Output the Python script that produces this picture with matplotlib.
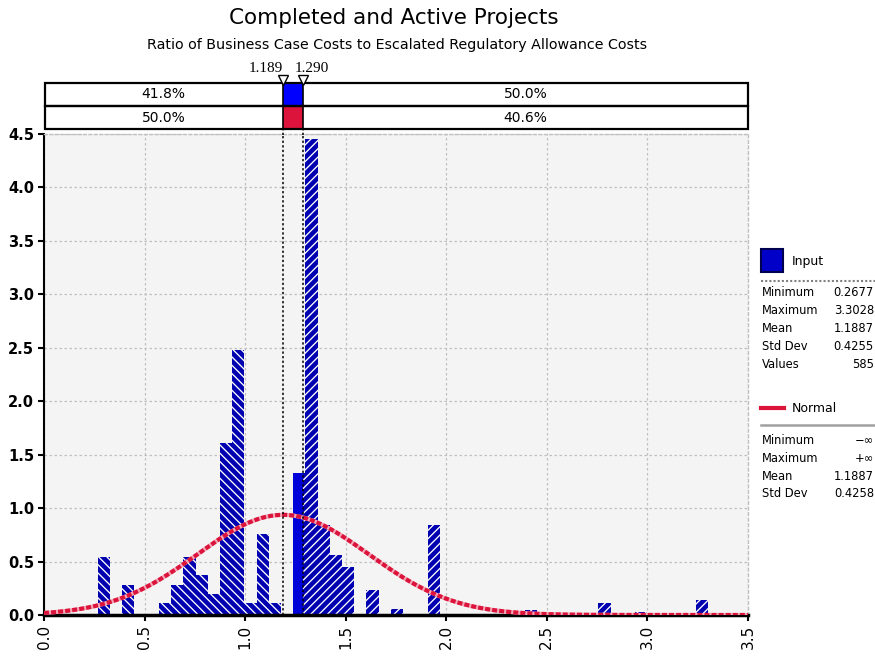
import numpy as np
import matplotlib.pyplot as plt
from matplotlib.patches import Rectangle
from matplotlib.lines import Line2D

plt.rcParams['font.family'] = ['DejaVu Sans']
plt.rcParams['hatch.linewidth'] = 0.95

title = 'Completed and Active Projects'
subtitle = 'Ratio of Business Case Costs to Escalated Regulatory Allowance Costs'

# input histogram (density), 50 equal bins between min and max
input_min, input_max = 0.2677, 3.3028
bin_heights = [0.54, 0.0, 0.28, 0.0, 0.0, 0.11, 0.28, 0.54, 0.37, 0.20,
               1.61, 2.48, 0.11, 0.76, 0.11, 0.0, 1.33, 4.45, 0.84, 0.56,
               0.45, 0.0, 0.23, 0.0, 0.06, 0.0, 0.0, 0.84, 0.0, 0.0,
               0.0, 0.0, 0.0, 0.0, 0.0, 0.05, 0.0, 0.0, 0.0, 0.0,
               0.0, 0.11, 0.0, 0.0, 0.03, 0.0, 0.0, 0.0, 0.0, 0.14]

# fitted normal
normal_mean, normal_sd = 1.1887, 0.4258

# delimiters and the percentages in the bars above the chart
delims = [1.189, 1.290]
delim_labels = ['1.189', '1.290']
pct_input = ['41.8%', '50.0%']
pct_normal = ['50.0%', '40.6%']

input_stats = [('Minimum', '0.2677'), ('Maximum', '3.3028'), ('Mean', '1.1887'),
               ('Std Dev', '0.4255'), ('Values', '585')]
normal_stats = [('Minimum', '\u2212\u221e'), ('Maximum', '+\u221e'), ('Mean', '1.1887'),
                ('Std Dev', '0.4258')]

W, H = 875, 659
BLUE = '#0000b0'
BLUE_SOLID = '#0000d8'
RED = '#dc143c'


def fx(px):
    return px / W


def fy(py):
    return 1 - py / H


fig = plt.figure(figsize=(W / 100, H / 100), dpi=100)

# ---- main histogram axes
ax = fig.add_axes([fx(44), fy(615), (748 - 44) / W, (615 - 134) / H])
ax.set_facecolor('#f4f4f4')
ax.set_xlim(0, 3.5)
ax.set_ylim(0, 4.5)

edges = np.linspace(input_min, input_max, len(bin_heights) + 1)
d1, d2 = delims
for i, h in enumerate(bin_heights):
    if h <= 0:
        continue
    lo, hi = edges[i], edges[i + 1]
    if lo < d1:
        r = min(hi, d1)
        ax.bar(lo, h, r - lo, align='edge', color=BLUE, edgecolor='white',
               hatch='\\\\\\\\', linewidth=0, zorder=2)
    if hi > d1 and lo < d2:
        l, r = max(lo, d1), min(hi, d2)
        ax.bar(l, h, r - l, align='edge', color=BLUE_SOLID, linewidth=0, zorder=2)
    if hi > d2:
        l = max(lo, d2)
        ax.bar(l, h, hi - l, align='edge', color=BLUE, edgecolor='white',
               hatch='////', linewidth=0, zorder=2)

xs = np.linspace(0, 3.5, 500)
pdf = np.exp(-0.5 * ((xs - normal_mean) / normal_sd) ** 2) / (normal_sd * np.sqrt(2 * np.pi))
ax.plot(xs, pdf, color='#f3a6b6', lw=3.0, zorder=3)
ax.plot(xs, pdf, color=RED, lw=3.0, dashes=(1.2, 0.5), zorder=4)

for d in delims:
    ax.axvline(d, color='black', lw=1.1, linestyle=(0, (1.5, 1.5)), zorder=5)

ax.set_xticks(np.arange(0, 3.51, 0.5))
ax.set_xticklabels([f'{v:.1f}' for v in np.arange(0, 3.51, 0.5)], rotation=90, fontsize=11)
ax.set_yticks(np.arange(0, 4.51, 0.5))
ax.set_yticklabels([f'{v:.1f}' for v in np.arange(0, 4.51, 0.5)], fontsize=10.5, fontweight='bold')
ax.tick_params(direction='out', length=4, width=1.5, pad=3)
ax.grid(color='#c0c0c0', linestyle=(0, (2, 2)), linewidth=0.9)
ax.set_axisbelow(True)
ax.spines['left'].set_linewidth(1.5)
ax.spines['bottom'].set_linewidth(2.5)
for s in ['top', 'right']:
    ax.spines[s].set_color('#c0c0c0')
    ax.spines[s].set_linestyle((0, (2, 2)))
    ax.spines[s].set_linewidth(1)

# ---- delimiter bars above the chart
tax = fig.add_axes([fx(44), fy(129), (748 - 44) / W, 46 / H])
tax.set_xlim(0, 3.5)
tax.set_ylim(0, 2)
tax.axis('off')
tax.add_patch(Rectangle((d1, 1), d2 - d1, 1, color='#0000ff', lw=0))
tax.add_patch(Rectangle((d1, 0), d2 - d1, 1, color=RED, lw=0))
for y0 in [0, 1]:
    tax.add_patch(Rectangle((0.005, y0), 3.495, 1, fill=False, edgecolor='black',
                            lw=1.6, clip_on=False))
for d in delims:
    tax.plot([d, d], [0, 2], color='black', lw=1.2, clip_on=False)
    tax.plot([d, d], [-0.25, 0], color='black', lw=1.1, linestyle=(0, (1.5, 1.5)), clip_on=False)
for row, pcts in [(1.5, pct_input), (0.5, pct_normal)]:
    tax.text((0 + d1) / 2, row, pcts[0], ha='center', va='center', fontsize=10)
    tax.text((d2 + 3.5) / 2, row, pcts[1], ha='center', va='center', fontsize=10)
tax.plot(delims, [2.13, 2.13], 'v', mfc='white', mec='black', ms=7, mew=1, clip_on=False)
tax.text(d1, 2.65, delim_labels[0], ha='right', va='center', fontsize=11, family='Liberation Serif')
tax.text(d2 - 0.042, 2.65, delim_labels[1], ha='left', va='center', fontsize=11, family='Liberation Serif')

# ---- titles
fig.text(fx(394), fy(18), title, ha='center', va='center', fontsize=15.5)
fig.text(fx(397), fy(45), subtitle, ha='center', va='center', fontsize=10.3)

# ---- legend panel
fig.add_artist(Rectangle((fx(761), fy(272)), 22 / W, 23 / H, transform=fig.transFigure,
                         facecolor='#0000c8', edgecolor='#000050', lw=1.5))
fig.text(fx(792), fy(261), 'Input', va='center', fontsize=9)
fig.add_artist(Line2D([fx(761), 1], [fy(281)] * 2, color='#808080', lw=1.5,
                      linestyle=(0, (1, 1))))
for k, (name, val) in enumerate(input_stats):
    y = fy(293 + k * 17.8)
    fig.text(fx(762), y, name, va='center', fontsize=8.3)
    fig.text(fx(874), y, val, va='center', ha='right', fontsize=8.3)

fig.add_artist(Line2D([fx(761), fx(784)], [fy(408)] * 2, color=RED, lw=3))
fig.text(fx(792), fy(409), 'Normal', va='center', fontsize=9)
fig.add_artist(Line2D([fx(761), 1], [fy(425)] * 2, color='#a0a0a0', lw=1.8))
for k, (name, val) in enumerate(normal_stats):
    y = fy(441 + k * 17.5)
    fig.text(fx(762), y, name, va='center', fontsize=8.3)
    fig.text(fx(874), y, val, va='center', ha='right', fontsize=8.3)

fig.savefig('out.png', dpi=100)
